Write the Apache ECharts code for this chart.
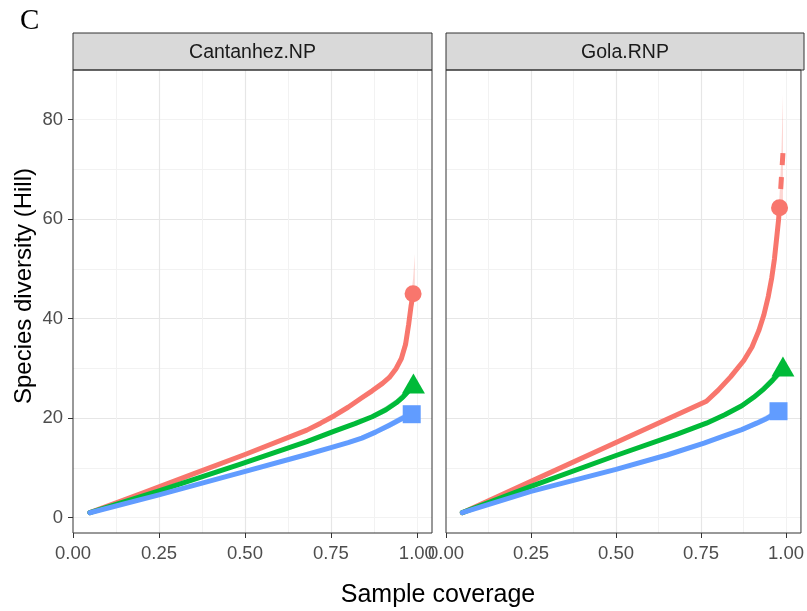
<!DOCTYPE html>
<html><head><meta charset="utf-8">
<script src="https://cdn.jsdelivr.net/npm/echarts@6/dist/echarts.min.js"></script>
<style>html,body{margin:0;padding:0;background:#fff}#c{width:807px;height:611px}</style>
</head><body><div id="c"></div>
<script>
// ---- categories / ticks ----
const sites = ['Cantanhez.NP', 'Gola.RNP'];
const xTicks = [0, 0.25, 0.5, 0.75, 1];
const yTicks = [0, 20, 40, 60, 80];

// ---- Cantanhez.NP ----
const cantRedX = [0.049, 0.2, 0.35, 0.5, 0.68, 0.72, 0.76, 0.80, 0.84, 0.87, 0.90, 0.92, 0.94, 0.955, 0.967, 0.976, 0.983, 0.989];
const cantRedY = [1, 4.9, 8.8, 12.7, 17.6, 19.0, 20.5, 22.2, 24.1, 25.5, 27.0, 28.2, 30.0, 32.0, 34.8, 38.8, 42.5, 45];
const cantGreenX = [0.049, 0.25, 0.485, 0.68, 0.76, 0.82, 0.87, 0.91, 0.94, 0.96, 0.975, 0.99];
const cantGreenY = [1, 5.4, 10.7, 15.3, 17.4, 18.9, 20.3, 21.7, 23.1, 24.3, 25.4, 27];
const cantBlueX = [0.049, 0.25, 0.485, 0.68, 0.75, 0.80, 0.84, 0.88, 0.92, 0.95, 0.97, 0.985];
const cantBlueY = [1, 4.6, 9.0, 12.7, 14.1, 15.1, 16.0, 17.2, 18.6, 19.7, 20.4, 20.8];
// confidence bands (end sections)
const cantRedBandX = [0.92, 0.95, 0.97, 0.98, 0.989, 0.994];
const cantRedBandLo = [27.7, 30.8, 35, 39.5, 43, 44];
const cantRedBandHi = [28.7, 32.3, 37.2, 43, 48, 53];
const cantGreenBandX = [0.87, 0.91, 0.94, 0.96, 0.975, 0.99];
const cantGreenBandLo = [19.8, 21.1, 22.5, 23.6, 24.6, 26];
const cantGreenBandHi = [20.8, 22.4, 23.8, 25.1, 26.3, 28];
const cantBlueBandX = [0.84, 0.92, 0.95, 0.97, 0.985];
const cantBlueBandLo = [15.6, 18.0, 19.1, 19.7, 20];
const cantBlueBandHi = [16.4, 19.2, 20.4, 21.1, 21.6];

// ---- Gola.RNP ----
const golaRedX = [0.048, 0.25, 0.5, 0.766, 0.80, 0.837, 0.876, 0.90, 0.92, 0.935, 0.948, 0.958, 0.966, 0.973, 0.978, 0.981];
const golaRedY = [1, 7.3, 15.1, 23.4, 25.6, 28.3, 31.6, 34.3, 37.6, 40.8, 44.5, 48.2, 52, 56.5, 59.8, 62.3];
const golaRedExtX = [0.991, 0.981];
const golaRedExtY = [73.3, 62.3];
const golaGreenX = [0.048, 0.25, 0.5, 0.68, 0.766, 0.82, 0.87, 0.905, 0.935, 0.96, 0.978, 0.991];
const golaGreenY = [1, 6.3, 12.5, 16.8, 19.0, 20.7, 22.5, 24.2, 25.9, 27.6, 29.0, 30.4];
const golaBlueX = [0.048, 0.25, 0.5, 0.65, 0.759, 0.82, 0.87, 0.914, 0.945, 0.965, 0.978];
const golaBlueY = [1, 5.3, 9.7, 12.6, 15.0, 16.5, 17.7, 19.0, 20.0, 20.8, 21.4];
const golaRedBandX = [0.935, 0.948, 0.966, 0.978, 0.981, 0.986, 0.991];
const golaRedBandLo = [40.2, 43.8, 51, 58.5, 60, 62, 63];
const golaRedBandHi = [41.4, 45.3, 53.2, 61.5, 65, 72, 85];
const golaGreenBandX = [0.87, 0.905, 0.935, 0.96, 0.978, 0.991];
const golaGreenBandLo = [22, 23.6, 25.2, 26.8, 28.1, 29.2];
const golaGreenBandHi = [23, 24.8, 26.6, 28.4, 29.9, 31.6];
const golaBlueBandX = [0.87, 0.914, 0.945, 0.965, 0.978];
const golaBlueBandLo = [17.3, 18.5, 19.4, 20.1, 20.7];
const golaBlueBandHi = [18.1, 19.6, 20.7, 21.6, 22.2];

// ---- styling ----
const RED = '#F8766D', GREEN = '#00BA38', BLUE = '#619CFF';
const FONT = 'Liberation Sans';
const X_MIN = 0, X_MAX = 1.044, Y_MIN = -3.08, Y_MAX = 90;
const grids = [
  {left: 73, width: 359},
  {left: 446, width: 358}
];
const TOP = 70, HEIGHT = 463;

function pairs(xs, ys) { return xs.map((x, i) => [x, ys[i]]); }

const xAxes = [], yAxes = [], series = [];
grids.forEach((g, gi) => {
  xAxes.push({
    type: 'value', gridIndex: gi, min: X_MIN, max: X_MAX, interval: 0.125,
    axisLine: {show: false, onZero: false}, axisTick: {show: false}, axisLabel: {show: false},
    splitLine: {show: true, showMinLine: false, showMaxLine: false, lineStyle: {color: '#f2f2f2', width: 1}}
  });
  xAxes.push({
    type: 'value', gridIndex: gi, min: X_MIN, max: X_MAX, interval: 0.25, position: 'bottom',
    axisLine: {show: false, onZero: false},
    axisTick: {show: true, length: 5, inside: false, customValues: xTicks, lineStyle: {color: '#333', width: 1}},
    axisLabel: {show: true, customValues: xTicks, formatter: v => v.toFixed(2), color: '#4d4d4d',
      fontSize: 18.5, fontFamily: FONT, margin: 11},
    splitLine: {show: true, showMinLine: false, showMaxLine: false, lineStyle: {color: '#e6e6e6', width: 1.2}}
  });
  yAxes.push({
    type: 'value', gridIndex: gi, min: Y_MIN, max: Y_MAX, splitNumber: 9,
    axisLine: {show: false, onZero: false}, axisTick: {show: false}, axisLabel: {show: false},
    splitLine: {show: true, showMinLine: false, showMaxLine: false, lineStyle: {color: '#f2f2f2', width: 1}}
  });
  yAxes.push({
    type: 'value', gridIndex: gi, min: Y_MIN, max: Y_MAX, splitNumber: 5, position: 'left',
    axisLine: {show: false, onZero: false},
    axisTick: {show: gi === 0, length: 5, inside: false, customValues: yTicks, lineStyle: {color: '#333', width: 1}},
    axisLabel: {show: gi === 0, customValues: yTicks, color: '#4d4d4d', fontSize: 18.5, fontFamily: FONT, margin: 10},
    splitLine: {show: true, showMinLine: false, showMaxLine: false, lineStyle: {color: '#e6e6e6', width: 1.2}}
  });
});

function band(gi, bx, lo, hi, color) {
  series.push({
    type: 'custom', xAxisIndex: gi * 2 + 1, yAxisIndex: gi * 2 + 1, z: 1, silent: true,
    data: [[bx[0], lo[0]]],
    renderItem: function (params, api) {
      const pts = [];
      for (let i = 0; i < bx.length; i++) pts.push(api.coord([bx[i], hi[i]]));
      for (let i = bx.length - 1; i >= 0; i--) pts.push(api.coord([bx[i], lo[i]]));
      return {type: 'polygon', shape: {points: pts}, style: {fill: color, opacity: 0.3}};
    }
  });
}
function line(gi, xs, ys, color, dashed) {
  series.push({
    type: 'line', xAxisIndex: gi * 2 + 1, yAxisIndex: gi * 2 + 1, z: 3, silent: true,
    data: pairs(xs, ys), symbol: 'none', smooth: false,
    lineStyle: {color: color, width: 5, cap: dashed ? 'butt' : 'round', join: 'round', type: dashed ? [12, 12] : 'solid'}
  });
}
function marker(gi, xs, ys, color, symbol, size) {
  const n = xs.length - 1;
  series.push({
    type: 'scatter', xAxisIndex: gi * 2 + 1, yAxisIndex: gi * 2 + 1, z: 4, silent: true,
    data: [[xs[n], ys[n]]], symbol: symbol, symbolSize: size, itemStyle: {color: color, opacity: 1}
  });
}

// bands
band(0, cantRedBandX, cantRedBandLo, cantRedBandHi, RED);
band(0, cantGreenBandX, cantGreenBandLo, cantGreenBandHi, GREEN);
band(0, cantBlueBandX, cantBlueBandLo, cantBlueBandHi, BLUE);
band(1, golaRedBandX, golaRedBandLo, golaRedBandHi, RED);
band(1, golaGreenBandX, golaGreenBandLo, golaGreenBandHi, GREEN);
band(1, golaBlueBandX, golaBlueBandLo, golaBlueBandHi, BLUE);
// lines
line(0, cantRedX, cantRedY, RED);
line(0, cantGreenX, cantGreenY, GREEN);
line(0, cantBlueX, cantBlueY, BLUE);
line(1, golaRedX, golaRedY, RED);
line(1, golaRedExtX, golaRedExtY, RED, true);
line(1, golaGreenX, golaGreenY, GREEN);
line(1, golaBlueX, golaBlueY, BLUE);
// observed-point markers
marker(0, cantRedX, cantRedY, RED, 'circle', 17);
marker(0, cantGreenX, cantGreenY, GREEN, 'triangle', [23, 20]);
marker(0, cantBlueX, cantBlueY, BLUE, 'rect', 18);
marker(1, golaRedX, golaRedY, RED, 'circle', 17);
marker(1, golaGreenX, golaGreenY, GREEN, 'triangle', [23, 20]);
marker(1, golaBlueX, golaBlueY, BLUE, 'rect', 18);

const graphic = [];
grids.forEach((g, gi) => {
  graphic.push({type: 'rect', silent: true, shape: {x: g.left, y: 33, width: g.width, height: TOP - 33},
    style: {fill: '#d9d9d9', stroke: '#333', lineWidth: 1}, z: 5});
  graphic.push({type: 'text', silent: true, x: g.left + g.width / 2, y: 53, z: 6,
    style: {text: sites[gi], fill: '#1a1a1a', font: '19.5px "' + FONT + '"', align: 'center', verticalAlign: 'middle'}});
});
graphic.push({type: 'text', silent: true, x: 20, y: 21,
  style: {text: 'C', fill: '#000', font: '29px "Liberation Serif"', align: 'left', verticalAlign: 'middle'}});
graphic.push({type: 'text', silent: true, x: 438, y: 595,
  style: {text: 'Sample coverage', fill: '#000', font: '25px "' + FONT + '"', align: 'center', verticalAlign: 'middle'}});
graphic.push({type: 'text', silent: true, x: 24, y: 286, rotation: Math.PI / 2,
  style: {text: 'Species diversity (Hill)', fill: '#000', font: '24px "' + FONT + '"', align: 'center', verticalAlign: 'middle'}});

const chart = echarts.init(document.getElementById('c'), null, {renderer: 'canvas'});
chart.setOption({
  animation: false,
  backgroundColor: '#fff',
  grid: grids.map(g => ({left: g.left, top: TOP, width: g.width, height: HEIGHT, show: true, z: 10,
    backgroundColor: 'transparent', borderColor: '#333', borderWidth: 1})),
  xAxis: xAxes,
  yAxis: yAxes,
  series: series,
  graphic: graphic
});
</script></body></html>
